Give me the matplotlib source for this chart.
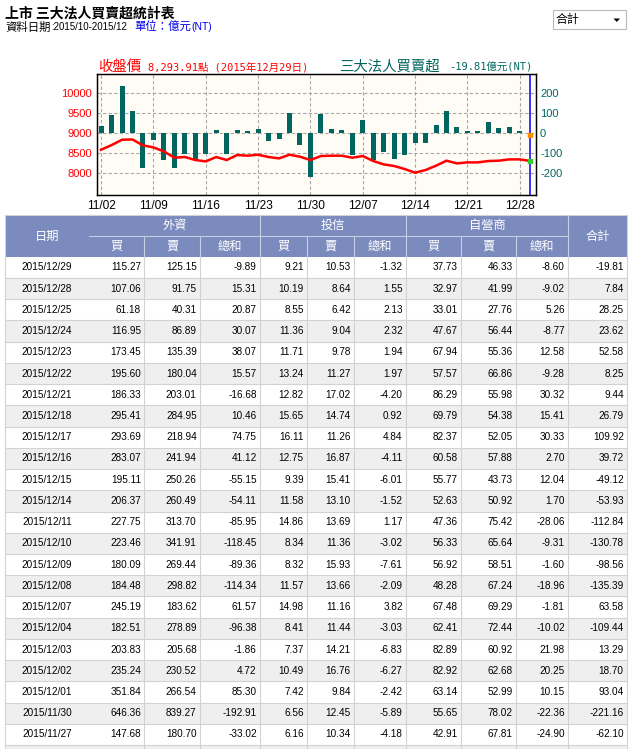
import numpy as np
import matplotlib
matplotlib.use("Agg")
import matplotlib.pyplot as plt
from matplotlib import font_manager
from matplotlib.patches import Rectangle, Polygon

# ---------------- data ----------------
chart_dates = ["11/02", "11/03", "11/04", "11/05", "11/06",
               "11/09", "11/10", "11/11", "11/12", "11/13",
               "11/16", "11/17", "11/18", "11/19", "11/20",
               "11/23", "11/24", "11/25", "11/26", "11/27",
               "11/30", "12/01", "12/02", "12/03", "12/04",
               "12/07", "12/08", "12/09", "12/10", "12/11",
               "12/14", "12/15", "12/16", "12/17", "12/18",
               "12/21", "12/22", "12/23", "12/24", "12/25",
               "12/28", "12/29"]
net_buy = [35, 90, 235, 110, -178,
           -35, -138, -175, -105, -130,
           -105, 15, -105, 15, 10,
           20, -43, -30, 100, -62.10,
           -221.16, 93.04, 18.70, 13.29, -109.44,
           63.58, -135.39, -98.56, -130.78, -112.84,
           -53.93, -49.12, 39.72, 109.92, 26.79,
           9.44, 8.25, 52.58, 23.62, 28.25,
           7.84, -19.81]
close_price = [8575, 8690, 8825, 8830, 8683,
               8633, 8533, 8375, 8392, 8317,
               8283, 8392, 8317, 8442, 8425,
               8450, 8392, 8358, 8450, 8400,
               8317, 8417, 8425, 8425, 8375,
               8417, 8292, 8208, 8167, 8092,
               8000, 8067, 8175, 8300, 8233,
               8258, 8258, 8292, 8300, 8333,
               8333, 8293.91]
tick_labels = ["11/02", "11/09", "11/16", "11/23", "11/30",
               "12/07", "12/14", "12/21", "12/28"]
price_ticks = [8000, 8500, 9000, 9500, 10000]
net_ticks = [-200, -100, 0, 100, 200]

table_dates = ["2015/12/29", "2015/12/28", "2015/12/25", "2015/12/24", "2015/12/23",
               "2015/12/22", "2015/12/21", "2015/12/18", "2015/12/17", "2015/12/16",
               "2015/12/15", "2015/12/14", "2015/12/11", "2015/12/10", "2015/12/09",
               "2015/12/08", "2015/12/07", "2015/12/04", "2015/12/03", "2015/12/02",
               "2015/12/01", "2015/11/30", "2015/11/27"]
fi_buy = [115.27, 107.06, 61.18, 116.95, 173.45, 195.60, 186.33, 295.41, 293.69, 283.07,
          195.11, 206.37, 227.75, 223.46, 180.09, 184.48, 245.19, 182.51, 203.83, 235.24,
          351.84, 646.36, 147.68]
fi_sell = [125.15, 91.75, 40.31, 86.89, 135.39, 180.04, 203.01, 284.95, 218.94, 241.94,
           250.26, 260.49, 313.70, 341.91, 269.44, 298.82, 183.62, 278.89, 205.68, 230.52,
           266.54, 839.27, 180.70]
fi_net = [-9.89, 15.31, 20.87, 30.07, 38.07, 15.57, -16.68, 10.46, 74.75, 41.12,
          -55.15, -54.11, -85.95, -118.45, -89.36, -114.34, 61.57, -96.38, -1.86, 4.72,
          85.30, -192.91, -33.02]
it_buy = [9.21, 10.19, 8.55, 11.36, 11.71, 13.24, 12.82, 15.65, 16.11, 12.75,
          9.39, 11.58, 14.86, 8.34, 8.32, 11.57, 14.98, 8.41, 7.37, 10.49,
          7.42, 6.56, 6.16]
it_sell = [10.53, 8.64, 6.42, 9.04, 9.78, 11.27, 17.02, 14.74, 11.26, 16.87,
           15.41, 13.10, 13.69, 11.36, 15.93, 13.66, 11.16, 11.44, 14.21, 16.76,
           9.84, 12.45, 10.34]
it_net = [-1.32, 1.55, 2.13, 2.32, 1.94, 1.97, -4.20, 0.92, 4.84, -4.11,
          -6.01, -1.52, 1.17, -3.02, -7.61, -2.09, 3.82, -3.03, -6.83, -6.27,
          -2.42, -5.89, -4.18]
dl_buy = [37.73, 32.97, 33.01, 47.67, 67.94, 57.57, 86.29, 69.79, 82.37, 60.58,
          55.77, 52.63, 47.36, 56.33, 56.92, 48.28, 67.48, 62.41, 82.89, 82.92,
          63.14, 55.65, 42.91]
dl_sell = [46.33, 41.99, 27.76, 56.44, 55.36, 66.86, 55.98, 54.38, 52.05, 57.88,
           43.73, 50.92, 75.42, 65.64, 58.51, 67.24, 69.29, 72.44, 60.92, 62.68,
           52.99, 78.02, 67.81]
dl_net = [-8.60, -9.02, 5.26, -8.77, 12.58, -9.28, 30.32, 15.41, 30.33, 2.70,
          12.04, 1.70, -28.06, -9.31, -1.60, -18.96, -1.81, -10.02, 21.98, 20.25,
          10.15, -22.36, -24.90]
total = [-19.81, 7.84, 28.25, 23.62, 52.58, 8.25, 9.44, 26.79, 109.92, 39.72,
         -49.12, -53.93, -112.84, -130.78, -98.56, -135.39, 63.58, -109.44, 13.29, 18.70,
         93.04, -221.16, -62.10]

# ---------------- fonts / colours ----------------
names = {f.name for f in font_manager.fontManager.ttflist}
NARROW = "Liberation Sans Narrow" if "Liberation Sans Narrow" in names else "Liberation Sans"
NUM_SIZE = 8.2 if NARROW == "Liberation Sans Narrow" else 7.2
CJK = "Noto Sans CJK TC"
TEAL = "#00665F"
HDR_BG = "#7B8BBE"

W, H = 632, 749
fig = plt.figure(figsize=(W / 100, H / 100), dpi=100)
fig.patch.set_facecolor("white")

# background axes in pixel coordinates for texts and the table
bg = fig.add_axes([0, 0, 1, 1])
bg.set_xlim(0, W)
bg.set_ylim(H, 0)
bg.axis("off")

# ---------------- header ----------------
bg.text(5, 13.5, "上市 三大法人買賣超統計表", fontsize=10, fontweight="bold",
        family=[CJK], va="center", ha="left", color="black")
bg.text(5, 27, "資料日期", fontsize=8.2, family=[CJK],
        va="center", ha="left", color="black")
bg.text(51.5, 27.3, ":2015/10-2015/12", fontsize=7.0, family=["Liberation Sans"],
        va="center", ha="left", color="black")
bg.text(134, 27, "單位：億元", fontsize=8.2, family=[CJK],
        va="center", ha="left", color="#0000EE")
bg.text(191, 27.3, "(NT)", fontsize=7.4, family=["Liberation Sans"],
        va="center", ha="left", color="#0000EE")
# dropdown
bg.add_patch(Rectangle((552.5, 10), 73, 18.5, facecolor="white", edgecolor="#BBBBBB", lw=0.8))
bg.text(556, 19, "合計", fontsize=8.6, family=[CJK], va="center", ha="left", color="black")
bg.add_patch(Polygon([(613.5, 18.5), (620, 18.5), (616.75, 22)], closed=True,
                     facecolor="black", edgecolor="none"))

# chart titles
bg.text(98.5, 66.5, "收盤價", fontsize=10.4, family=[CJK], color="red", va="center", ha="left")
bg.text(148, 67, "8,293.91點 (2015年12月29日)", fontsize=7.5,
        family=["DejaVu Sans Mono", CJK], color="red", va="center", ha="left")
bg.text(339, 66.5, "三大法人買賣超", fontsize=10.4, family=[CJK], color=TEAL,
        va="center", ha="left")
bg.text(449.5, 67, "-19.81億元(NT)", fontsize=7.5,
        family=["DejaVu Sans Mono", CJK], color=TEAL, va="center", ha="left")

# ---------------- chart ----------------
def px_rect(l, t, r, b):
    return [l / W, 1 - b / H, (r - l) / W, (b - t) / H]

ax_net = fig.add_axes(px_rect(96.7, 74.3, 536.3, 195.3))
ax_net.set_facecolor("#FFFCF5")
x = np.arange(len(chart_dates))
ax_net.bar(x, net_buy, width=0.48, color=TEAL, zorder=2)
ax_net.set_xlim(-0.42, len(chart_dates) - 0.42)
ax_net.set_ylim(-313, 292)
ax_net.set_axisbelow(True)
ax_net.grid(True, color="#A8A8A8", linestyle=(0, (3, 2)), linewidth=0.8)
tick_pos = [chart_dates.index(t) for t in tick_labels]
ax_net.set_xticks(tick_pos)
ax_net.set_xticklabels(tick_labels, family=["Liberation Sans"], fontsize=8.6)
ax_net.tick_params(axis="x", length=0, pad=3.2, colors="black")

ax_price = ax_net.twinx()
ax_price.plot(x, close_price, color="red", lw=1.8, zorder=3, solid_joinstyle="miter")
ax_price.set_ylim(9000 + 5 * (-313), 9000 + 5 * 292)
ax_price.yaxis.tick_left()
ax_price.set_yticks(price_ticks)
ax_price.set_yticklabels([str(v) for v in price_ticks], family=["Liberation Sans"],
                         fontsize=8, color="red")
ax_price.tick_params(axis="y", length=0, pad=3.6)

ax_net.yaxis.tick_right()
ax_net.set_yticks(net_ticks)
ax_net.set_yticklabels([str(v) for v in net_ticks], family=["Liberation Sans"],
                       fontsize=8, color=TEAL)
ax_net.tick_params(axis="y", length=0, pad=2.7)

last = len(chart_dates) - 1
ax_net.axvline(last, color="#0000FF", lw=1.1, zorder=4)
ax_net.plot([last], [net_buy[last] / 2], marker="s", ms=2.2, color="#FF8C00", zorder=5)
ax_price.plot([last], [close_price[last]], marker="s", ms=2.2, color="#33CC33", zorder=5)

for a in (ax_net, ax_price):
    for s in a.spines.values():
        s.set_color("black")
        s.set_linewidth(0.9)

# ---------------- table ----------------
col_edges = [4.7, 89, 144.3, 200, 260, 307, 354, 406, 461, 516, 568, 627]
t_top, h_mid, h_bot = 215, 236.3, 256.8
row_h = 21.23
LINE = "#D2D2D2"
HLINE = "#C9CFE3"

bg.add_patch(Rectangle((col_edges[0], t_top), col_edges[-1] - col_edges[0], h_bot - t_top,
                       facecolor=HDR_BG, edgecolor="none"))
bg.plot([col_edges[1], col_edges[10]], [h_mid, h_mid], color=HLINE, lw=0.8)
for i in (4, 7, 10):
    bg.plot([col_edges[i]] * 2, [t_top, h_bot], color=HLINE, lw=0.8)
for i in (2, 3, 5, 6, 8, 9):
    bg.plot([col_edges[i]] * 2, [h_mid, h_bot], color=HLINE, lw=0.8)

hdr_kw = dict(family=[CJK], fontsize=8.8, color="white", ha="center", va="center")
bg.text((col_edges[0] + col_edges[1]) / 2, 236, "日期", **hdr_kw)
bg.text((col_edges[1] + col_edges[4]) / 2, 225.5, "外資", **hdr_kw)
bg.text((col_edges[4] + col_edges[7]) / 2, 225.5, "投信", **hdr_kw)
bg.text((col_edges[7] + col_edges[10]) / 2, 225.5, "自營商", **hdr_kw)
bg.text((col_edges[10] + col_edges[11]) / 2, 236, "合計", **hdr_kw)
for g in range(3):
    for j, lab in enumerate(["買", "賣", "總和"]):
        c = 1 + g * 3 + j
        bg.text((col_edges[c] + col_edges[c + 1]) / 2, 246.5, lab, **hdr_kw)

columns = [fi_buy, fi_sell, fi_net, it_buy, it_sell, it_net, dl_buy, dl_sell, dl_net, total]
n_rows = len(table_dates) + 1
for r in range(n_rows):
    top = h_bot + r * row_h
    bg.add_patch(Rectangle((col_edges[0], top), col_edges[-1] - col_edges[0], row_h,
                           facecolor="white" if r % 2 == 0 else "#EFEFEF", edgecolor="none"))
    bg.plot([col_edges[0], col_edges[-1]], [top + row_h] * 2, color=LINE, lw=0.8)
    if r < len(table_dates):
        yc = top + row_h / 2
        bg.text((col_edges[0] + col_edges[1]) / 2, yc, table_dates[r], family=[NARROW],
                fontsize=NUM_SIZE, ha="center", va="center", color="black")
        for c, col in enumerate(columns):
            bg.text(col_edges[c + 2] - 3.3, yc, f"{col[r]:.2f}", family=[NARROW],
                    fontsize=NUM_SIZE, ha="right", va="center", color="black")
for i, xe in enumerate(col_edges):
    if i == 1:
        continue
    bg.plot([xe, xe], [h_bot, H], color=LINE, lw=0.8)
bg.plot([col_edges[0], col_edges[-1]], [t_top, t_top], color=LINE, lw=0.8)
bg.plot([col_edges[0]] * 2, [t_top, h_bot], color=LINE, lw=0.8)
bg.plot([col_edges[-1]] * 2, [t_top, h_bot], color=LINE, lw=0.8)

fig.savefig("out.png", dpi=100)
